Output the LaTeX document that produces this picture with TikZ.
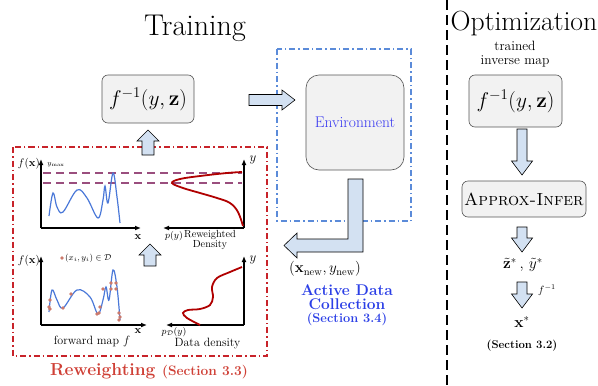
\RequirePackage{fix-cm}
\documentclass[tikz,border=0pt]{standalone}
\usetikzlibrary{arrows.meta}
\definecolor{boxgray}{HTML}{F2F2F2}
\definecolor{boxline}{HTML}{555555}
\definecolor{arrfill}{HTML}{D3E1F2}
\definecolor{envblue}{HTML}{3838F0}
\definecolor{acblue}{HTML}{2B3FE6}
\definecolor{rwred}{HTML}{CF4036}
\definecolor{boxred}{HTML}{C8232A}
\definecolor{boxblue}{HTML}{5B8BD9}
\definecolor{curveblue}{HTML}{4A78D8}
\definecolor{densred}{HTML}{B00000}
\definecolor{dashpurple}{HTML}{9A4E7E}
\definecolor{dotred}{HTML}{CC7A6C}
\newcommand\vblk[6]{\draw[blk] ({#1-#4},#2) -- ({#1+#4},#2) -- ({#1+#4},#6) -- ({#1+#5},#6) -- (#1,#3) -- ({#1-#5},#6) -- ({#1-#4},#6) -- cycle;}
\newcommand\hblk[6]{\draw[blk] (#2,{#1-#4}) -- (#2,{#1+#4}) -- (#6,{#1+#4}) -- (#6,{#1+#5}) -- (#3,#1) -- (#6,{#1-#5}) -- (#6,{#1-#4}) -- cycle;}
\begin{document}
\begin{tikzpicture}[x=1pt,y=-1pt,
  blk/.style={fill=arrfill,draw=black,line width=0.6pt,line join=miter},
  gbox/.style={draw=boxline,fill=boxgray,rounded corners=6pt,line width=0.6pt,inner sep=0pt},
  axis/.style={line width=1.3pt,-{Latex[length=6pt,width=5pt]}},
  fcurve/.style={curveblue,line width=1.2pt},
  dcurve/.style={densred,line width=1.8pt},
  dot/.style={circle,fill=dotred,inner sep=0pt,minimum size=3.6pt},
  lbl/.style={inner sep=0pt}]
\useasboundingbox (0,0) rectangle (598,386);
% titles
\node[lbl,font=\fontsize{30}{34}\selectfont] (ttrain) at (195,28) {Training};
\node[lbl,font=\fontsize{27.7}{32}\selectfont] (topt) at (524,24) {Optimization};
% separator
\draw[line width=2.4pt,dash pattern=on 10pt off 5pt] (447,0) -- (447,386);
% boxes
\node[gbox,minimum width=92pt,minimum height=48pt,font=\fontsize{21.3}{25}\selectfont] (finv) at (148,99) {$f^{-1}(y,\mathbf{z})$};
\node[gbox,minimum width=93pt,minimum height=52pt,font=\fontsize{21.3}{25}\selectfont] (finv2) at (515.5,101) {$f^{-1}(y,\mathbf{z})$};
\node[gbox,minimum width=124pt,minimum height=36pt,font=\fontsize{17.5}{20}\selectfont] (approx) at (524,199) {\textsc{Approx-Infer}};
\node[gbox,rounded corners=13pt,minimum width=98pt,minimum height=95pt,font=\fontsize{15.5}{17}\selectfont,text=envblue] (env) at (355,122.5) {Environment};
% dash-dot frames
\draw[boxblue,line width=1.3pt,dash pattern=on 6pt off 3pt on 1.5pt off 3pt] (277,49) rectangle (411,221);
\draw[boxred,line width=1.2pt,dash pattern=on 6pt off 3pt on 1.5pt off 3pt] (13,147) rectangle (267,356);
% block arrows
\vblk{148}{155}{130}{6}{11}{141}
\vblk{150}{266}{244}{6}{11}{255}
\hblk{100}{249}{295}{5.5}{10}{282}
\draw[blk] (348,179) -- (363,179) -- (363,252) -- (297,252) -- (297,258) -- (284,245.5) -- (297,233) -- (297,239) -- (348,239) -- cycle;
\vblk{522}{129}{175}{5}{10.5}{161}
\vblk{522}{227}{252}{5}{10.5}{238}
\vblk{522}{282}{308}{5}{10.5}{294}
% optimization texts
\node[lbl,align=center,font=\fontsize{13.5}{13.5}\selectfont] (trained) at (515,54) {trained\\inverse map};
\node[lbl,font=\fontsize{15.5}{18}\selectfont] (zy) at (523,265) {$\tilde{\mathbf{z}}^{*}\,,\,\tilde{y}^{*}$};
\node[lbl,font=\fontsize{10.5}{12}\selectfont] (finvlbl) at (547,290) {$f^{-1}$};
\node[lbl,font=\fontsize{15.5}{18}\selectfont] (xstar) at (522,322) {$\mathbf{x}^{*}$};
\node[lbl,font=\fontsize{11.3}{13}\selectfont\bfseries] (sec32) at (522,346) {(Section 3.2)};
% active data collection
\node[lbl,font=\fontsize{15}{17}\selectfont] (xnew) at (325,269) {$(\mathbf{x}_{\mathrm{new}},y_{\mathrm{new}})$};
\node[lbl,align=center,text=acblue,font=\fontsize{15.5}{14.5}\selectfont\bfseries] (adc) at (347,297) {Active Data\\Collection};
\node[lbl,text=acblue,font=\fontsize{12.8}{14}\selectfont\bfseries] (sec34) at (347,319) {(Section 3.4)};
% reweighting label
\node[lbl,text=rwred,font=\fontsize{17.4}{19}\selectfont\bfseries] (rw) at (149,371) {Reweighting {\fontsize{13.7}{15}\selectfont (Section 3.3)}};
% ---- top-left plot
\draw[dashpurple,line width=2.2pt,dash pattern=on 8pt off 5pt] (43,173) -- (242,173);
\draw[dashpurple,line width=2.2pt,dash pattern=on 8pt off 5pt] (43,183) -- (242,183);
\coordinate (o1) at (41,228);
\draw[axis] (o1) -- (41,159);
\draw[axis] (o1) -- (141,228);
\node[lbl,anchor=east,font=\fontsize{11}{13}\selectfont] (fx1) at (40,164) {$f(\mathbf{x})$};
\node[lbl,font=\fontsize{7}{8}\selectfont] (ymax) at (56,165) {$y_{\max}$};
\node[lbl,font=\fontsize{11}{13}\selectfont] (x1) at (138,237) {$\mathbf{x}$};
\draw[fcurve] plot[smooth,tension=0.6] coordinates {(49,216) (53,193) (57,207) (63,212) (77,190) (87,198) (98,218) (103,200) (105,186) (108,203) (113,173) (117,197) (120,223)};
% ---- top-right density
\coordinate (o2) at (244,228);
\draw[axis] (o2) -- (244,159);
\draw[axis] (o2) -- (163,228);
\node[lbl,font=\fontsize{13}{15}\selectfont] (y1) at (253,160) {$y$};
\draw[dcurve] plot[smooth,tension=0.6] coordinates {(243,226) (238,212) (230,203) (217,198) (200,193) (183,188) (172,183) (180,179) (200,176) (227,173) (242,172)};
\node[lbl,font=\fontsize{9.5}{11}\selectfont] (py) at (174,236) {$p(y)$};
\node[lbl,align=center,font=\fontsize{10.3}{9.8}\selectfont] (rwd) at (210,240) {Reweighted\\Density};
% ---- bottom-left plot
\coordinate (o3) at (41,325);
\draw[axis] (o3) -- (41,256);
\draw[axis] (o3) -- (147,325);
\node[lbl,anchor=east,font=\fontsize{11}{13}\selectfont] (fx2) at (40,261) {$f(\mathbf{x})$};
\node[lbl,font=\fontsize{11}{13}\selectfont] (x2) at (138,331) {$\mathbf{x}$};
\node[dot] (leg) at (62,258) {};
\node[lbl,anchor=west,font=\fontsize{8.5}{10}\selectfont] (legt) at (65,258) {$(x_i,y_i)\in\mathcal{D}$};
\draw[fcurve] plot[smooth,tension=0.6] coordinates {(49,312) (52,290) (57,300) (63,308) (77,290) (90,297) (98,314) (103,300) (106,287) (109,300) (113,270) (117,287) (120,320)};
\foreach \p in {(50,300),(49,307),(50,309),(63,308),(71,294),(97,314),(99,313),(100,307),(103,289),(111,289),(111,283),(116,283),(116,289),(119,313),(120,317),(119,320)}
  \node[dot] at \p {};
\node[lbl,font=\fontsize{12}{14}\selectfont] (fmap) at (92,341) {forward map $f$};
% ---- bottom-right density
\coordinate (o4) at (244,325);
\draw[axis] (o4) -- (244,256);
\draw[axis] (o4) -- (166,325);
\node[lbl,font=\fontsize{13}{15}\selectfont] (y2) at (253,260) {$y$};
\draw[dcurve] plot[smooth,tension=0.55] coordinates {(200,325) (187,318) (183,313) (188,310) (200,309) (210,305) (213,297) (212,287) (217,278) (230,272) (242,267)};
\node[lbl,font=\fontsize{9.5}{11}\selectfont] (pd) at (174,332) {$p_{\mathcal{D}}(y)$};
\node[lbl,font=\fontsize{12}{13}\selectfont] (dd) at (207.5,344) {Data density};
\end{tikzpicture}
\end{document}
